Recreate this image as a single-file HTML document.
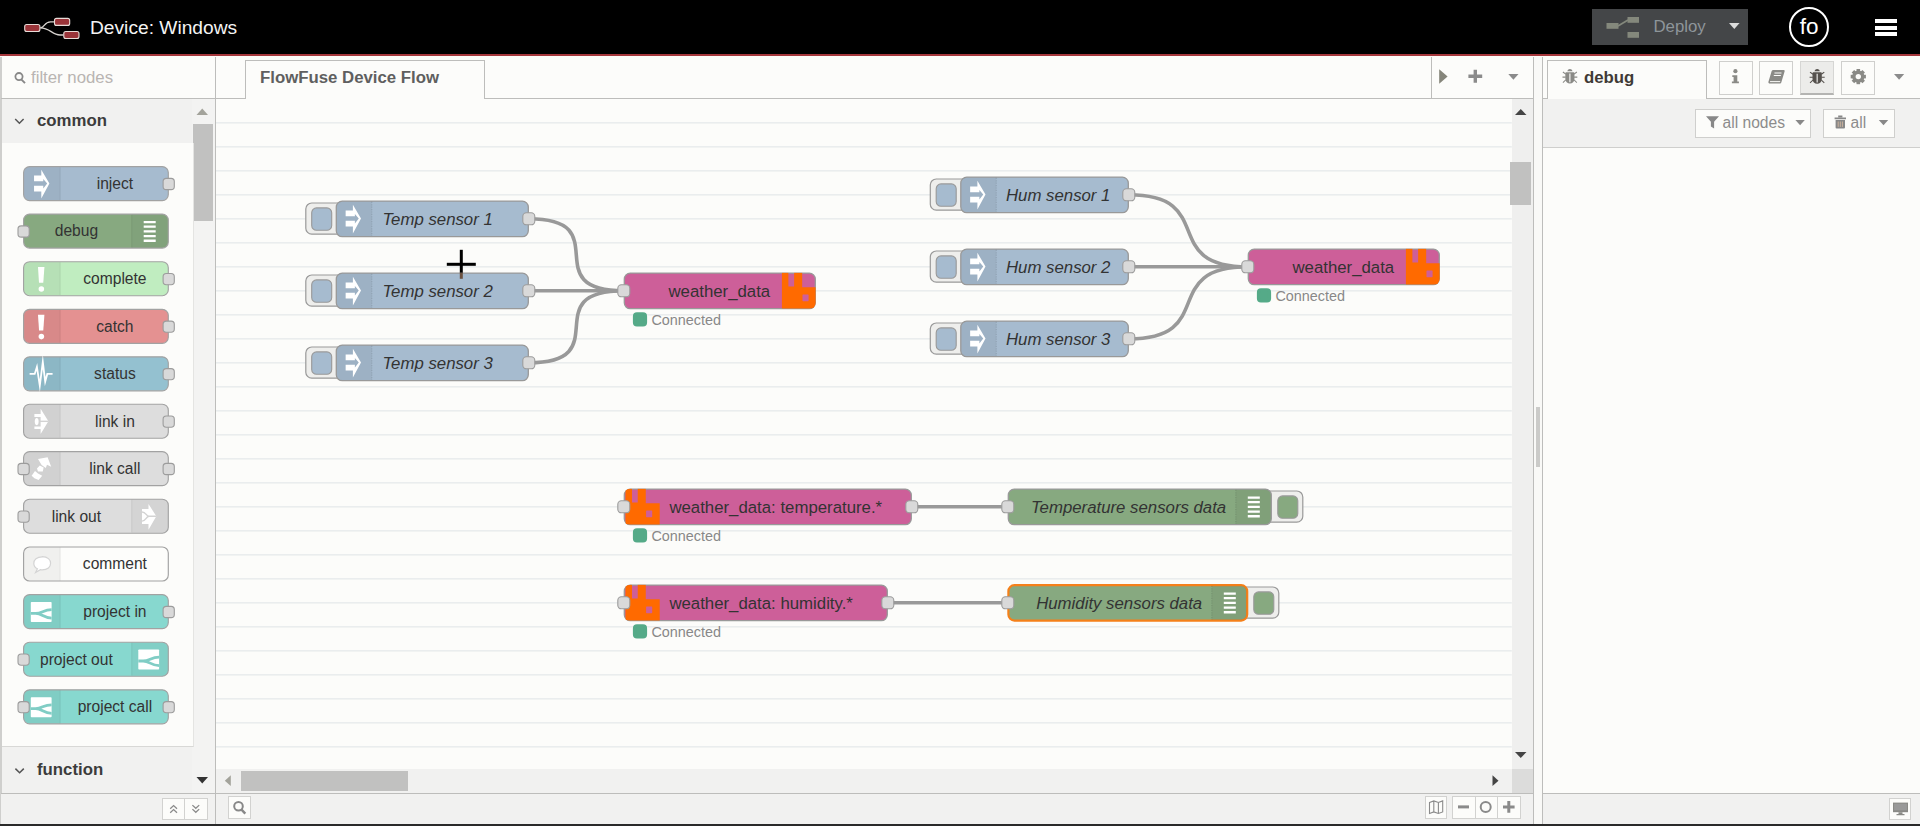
<!DOCTYPE html><html><head><meta charset="utf-8"><title>FlowFuse Device</title>
<style>
html,body{margin:0;padding:0;overflow:hidden;}
body{width:1920px;height:826px;overflow:hidden;position:relative;background:#fcfcfa;font-family:"Liberation Sans", sans-serif;color:#333;}
.a{position:absolute;box-sizing:border-box;}
.t{position:absolute;white-space:nowrap;line-height:1;}
svg{position:absolute;left:0;top:0;overflow:visible;}
svg text{font-family:"Liberation Sans", sans-serif;}
</style></head><body>
<div class="a" style="left:0px;top:0px;width:1920px;height:54px;background:#000;"></div>
<div class="a" style="left:0px;top:54px;width:1920px;height:2.3px;background:#a5373c;"></div>
<svg width="1920" height="56">
<g fill="none" stroke="#d8d4d0" stroke-width="1.3">
<path d="M40.4 27.8 C45 27.8 44 21.9 50.5 21.9 L54.5 21.9"/>
<path d="M40.4 27.8 C50 27.8 52 35 60 35 L63.6 35"/>
</g>
<rect x="24.7" y="24.5" width="15.2" height="7" rx="2" fill="#9a3439" stroke="#e8dcd8" stroke-width="1.1"/>
<rect x="54.5" y="18.4" width="15.2" height="7" rx="2" fill="#9a3439" stroke="#e8dcd8" stroke-width="1.1"/>
<rect x="63.8" y="31.5" width="15.2" height="7" rx="2" fill="#9a3439" stroke="#e8dcd8" stroke-width="1.1"/>
</svg>
<div class="t" style="left:90px;top:17.5px;font-size:19.2px;color:#f4f4f4;">Device: Windows</div>
<div class="a" style="left:1592px;top:9px;width:156px;height:36px;background:#444648;"></div>
<svg width="1920" height="56">
<g fill="#84887c">
<rect x="1606.5" y="23" width="12" height="5.8"/>
<rect x="1627.5" y="17" width="11.5" height="5.8"/>
<rect x="1627.5" y="32" width="11.5" height="5.8"/>
</g>
<path d="M1618 26 L1628 20" stroke="#84887c" stroke-width="1.6" fill="none"/>
<path d="M1729 23 h10.6 l-5.3 6 z" fill="#dcdcdc"/>
</svg>
<div class="t" style="left:1653.5px;top:18.5px;font-size:16.8px;color:#8e959a;">Deploy</div>
<div class="a" style="left:1789px;top:7px;width:40px;height:40px;border:2px solid #fff;border-radius:50%;"></div>
<div class="t" style="left:1799.8px;top:16px;font-size:22.5px;color:#fff;">fo</div>
<div class="a" style="left:1875px;top:18.8px;width:21.5px;height:4px;background:#fff;"></div>
<div class="a" style="left:1875px;top:25.6px;width:21.5px;height:4px;background:#fff;"></div>
<div class="a" style="left:1875px;top:32.2px;width:21.5px;height:4px;background:#fff;"></div>
<div class="a" style="left:0.3px;top:56.5px;width:1.3px;height:768px;background:#cfcfcd;"></div>
<div class="a" style="left:215px;top:56.5px;width:1.2px;height:768px;background:#bdbdbb;"></div>
<div class="a" style="left:1px;top:98px;width:215px;height:1.2px;background:#bdbdbb;"></div>
<svg width="220" height="100"><circle cx="19" cy="76.6" r="3.6" fill="none" stroke="#888" stroke-width="1.8"/><path d="M21.5 79.6 L25 83.1" stroke="#888" stroke-width="2"/></svg>
<div class="t" style="left:31px;top:70.3px;font-size:16.8px;color:#b9b5b2;">filter nodes</div>
<div class="a" style="left:216px;top:98px;width:1318px;height:1.2px;background:#bdbdbb;"></div>
<div class="a" style="left:245px;top:60px;width:240px;height:39.5px;border:1.2px solid #bdbdbb;border-bottom:none;background:#fcfcfa;"></div>
<div class="t" style="left:260px;top:70.1px;font-size:16.8px;font-weight:bold;color:#5f5f5f;">FlowFuse Device Flow</div>
<div class="a" style="left:1431px;top:56.5px;width:1.2px;height:42px;background:#bdbdbb;"></div>
<svg width="1920" height="100">
<path d="M1439.2 69.2 L1447.6 76.5 L1439.2 83.8 z" fill="#85857a"/>
<path d="M1468.4 74.6 h5.2 v-4.8 h3.4 v4.8 h5.2 v3.4 h-5.2 v4.8 h-3.4 v-4.8 h-5.2 z" fill="#8b8b8b"/>
<path d="M1508.3 74 h10.2 l-5.1 5.8 z" fill="#8b8b8b"/>
</svg>
<div class="a" style="left:1533px;top:56.5px;width:1.2px;height:768px;background:#bdbdbb;"></div>
<div class="a" style="left:1534.2px;top:56.5px;width:8px;height:768px;background:#f9f9f7;"></div>
<div class="a" style="left:1542px;top:56.5px;width:1.2px;height:768px;background:#bdbdbb;"></div>
<div class="a" style="left:1536px;top:407px;width:4px;height:60px;background:#cbcbc9;"></div>
<div class="a" style="left:1px;top:793.2px;width:1532px;height:31px;background:#f1f1f0;border-top:1.2px solid #bdbdbb;"></div>
<div class="a" style="left:1543px;top:793.2px;width:377px;height:31px;background:#f1f1f0;border-top:1.2px solid #bdbdbb;"></div>
<div class="a" style="left:215px;top:794px;width:1.2px;height:30px;background:#bdbdbb;"></div>
<div class="a" style="left:1533px;top:794px;width:1.2px;height:30px;background:#bdbdbb;"></div>
<div class="a" style="left:0px;top:823.6px;width:1920px;height:2.4px;background:#2a2a2a;"></div>
<div class="a" style="left:192px;top:99px;width:23px;height:694.2px;background:#f3f3f2;"></div>
<div class="a" style="left:192.5px;top:124px;width:20.5px;height:97px;background:#c1c1c0;"></div>
<svg width="220" height="826"><path d="M196.5 115 h11.5 l-5.75 -6.5 z" fill="#a3a39b"/><path d="M196.5 777 h11.5 l-5.75 6.5 z" fill="#333"/></svg>
<div class="a" style="left:2px;top:99.2px;width:190px;height:43.5px;background:#f1f1f0;"></div>
<svg width="220" height="826"><path d="M15.2 119 l4.2 4.2 l4.2 -4.2" fill="none" stroke="#555" stroke-width="1.5"/></svg>
<div class="t" style="left:37px;top:113px;font-size:16.8px;font-weight:bold;color:#3c3c3c;">common</div>
<div class="a" style="left:2px;top:142.7px;width:192px;height:604.5px;background:#fcfcfa;border-bottom:1.2px solid #d8d8d6;border-right:1.2px solid #e4e4e2;"></div>
<div class="a" style="left:2px;top:747.2px;width:190px;height:46px;background:#f1f1f0;"></div>
<div class="t" style="left:37px;top:762.2px;font-size:16.8px;font-weight:bold;color:#3c3c3c;">function</div>
<svg width="220" height="826">
<rect x="23.6" y="166.6" width="144.7" height="34" rx="6" fill="#a6bbcf" stroke="#a2a2a2" stroke-width="1.15"/>
<path d="M29.6 167.2 h30.6 v32.8 h-30.6 a5.4 5.4 0 0 1 -5.4 -5.4 v-22 a5.4 5.4 0 0 1 5.4 -5.4 z" fill="rgba(0,0,0,0.05)"/>
<path d="M60.2 167.2 v32.8" stroke="rgba(0,0,0,0.06)" stroke-width="1.2"/>
<g transform="translate(30.2 165.6) scale(0.6)"><path d="M6.4 16.7 H18.5 V7 L32 29.7 L18.5 54.8 V43.2 H6.4 V33.4 H21.8 V38 L28.3 29.7 L21.8 22.3 V26 H6.4 Z" fill="#fff"/></g>
<rect x="163.1" y="178.4" width="11.2" height="11.2" rx="3.2" fill="#d9d9d9" stroke="#9c9c9c" stroke-width="1.1"/>
<text x="114.9" y="188.9" font-size="15.6" text-anchor="middle" fill="#333">inject</text>
<rect x="23.6" y="214.1" width="144.7" height="34" rx="6" fill="#87a980" stroke="#a2a2a2" stroke-width="1.15"/>
<path d="M131.7 214.7 h30.6 a5.4 5.4 0 0 1 5.4 5.4 v22 a5.4 5.4 0 0 1 -5.4 5.4 h-30.6 z" fill="rgba(0,0,0,0.04)"/>
<path d="M131.7 214.7 v32.8" stroke="rgba(0,0,0,0.06)" stroke-width="1.2"/>
<g transform="translate(137.7 213.1) scale(0.6)"><path d="M10 13h20v3.8H10z M10 20.8h20v3.8H10z M10 28.6h20v3.8H10z M10 36.4h20v3.8H10z M10 44.2h20v3.8H10z" fill="#fff"/></g>
<rect x="18" y="225.9" width="11.2" height="11.2" rx="3.2" fill="#d9d9d9" stroke="#9c9c9c" stroke-width="1.1"/>
<text x="76.4" y="236.4" font-size="15.6" text-anchor="middle" fill="#333">debug</text>
<rect x="23.6" y="261.7" width="144.7" height="34" rx="6" fill="#c0edc0" stroke="#a2a2a2" stroke-width="1.15"/>
<path d="M29.6 262.3 h30.6 v32.8 h-30.6 a5.4 5.4 0 0 1 -5.4 -5.4 v-22 a5.4 5.4 0 0 1 5.4 -5.4 z" fill="rgba(0,0,0,0.05)"/>
<path d="M60.2 262.3 v32.8" stroke="rgba(0,0,0,0.06)" stroke-width="1.2"/>
<g transform="translate(30.2 260.7) scale(0.6)"><path d="M13 10.6 H23.7 L21.8 36.8 H14.7 Z" fill="#fff"/><circle cx="18.6" cy="47.2" r="4.6" fill="#fff"/></g>
<rect x="163.1" y="273.5" width="11.2" height="11.2" rx="3.2" fill="#d9d9d9" stroke="#9c9c9c" stroke-width="1.1"/>
<text x="114.9" y="284" font-size="15.6" text-anchor="middle" fill="#333">complete</text>
<rect x="23.6" y="309.3" width="144.7" height="34" rx="6" fill="#e49191" stroke="#a2a2a2" stroke-width="1.15"/>
<path d="M29.6 309.9 h30.6 v32.8 h-30.6 a5.4 5.4 0 0 1 -5.4 -5.4 v-22 a5.4 5.4 0 0 1 5.4 -5.4 z" fill="rgba(0,0,0,0.05)"/>
<path d="M60.2 309.9 v32.8" stroke="rgba(0,0,0,0.06)" stroke-width="1.2"/>
<g transform="translate(30.2 308.3) scale(0.6)"><path d="M13 10.6 H23.7 L21.8 36.8 H14.7 Z" fill="#fff"/><circle cx="18.6" cy="47.2" r="4.6" fill="#fff"/></g>
<rect x="163.1" y="321.1" width="11.2" height="11.2" rx="3.2" fill="#d9d9d9" stroke="#9c9c9c" stroke-width="1.1"/>
<text x="114.9" y="331.6" font-size="15.6" text-anchor="middle" fill="#333">catch</text>
<rect x="23.6" y="356.8" width="144.7" height="34" rx="6" fill="#94c1d0" stroke="#a2a2a2" stroke-width="1.15"/>
<path d="M29.6 357.4 h30.6 v32.8 h-30.6 a5.4 5.4 0 0 1 -5.4 -5.4 v-22 a5.4 5.4 0 0 1 5.4 -5.4 z" fill="rgba(0,0,0,0.05)"/>
<path d="M60.2 357.4 v32.8" stroke="rgba(0,0,0,0.06)" stroke-width="1.2"/>
<g transform="translate(30.2 355.8) scale(0.6)"><path d="M-1 30.2 H7.5 L11.2 18.5 L16 50 L21 10 L25 43 L28.5 30.2 H37.3" fill="none" stroke="#fff" stroke-width="3" stroke-linejoin="miter" stroke-miterlimit="12"/></g>
<rect x="163.1" y="368.6" width="11.2" height="11.2" rx="3.2" fill="#d9d9d9" stroke="#9c9c9c" stroke-width="1.1"/>
<text x="114.9" y="379.1" font-size="15.6" text-anchor="middle" fill="#333">status</text>
<rect x="23.6" y="404.2" width="144.7" height="34" rx="6" fill="#dddddd" stroke="#a2a2a2" stroke-width="1.15"/>
<path d="M29.6 404.8 h30.6 v32.8 h-30.6 a5.4 5.4 0 0 1 -5.4 -5.4 v-22 a5.4 5.4 0 0 1 5.4 -5.4 z" fill="rgba(0,0,0,0.05)"/>
<path d="M60.2 404.8 v32.8" stroke="rgba(0,0,0,0.06)" stroke-width="1.2"/>
<g transform="translate(30.2 403.2) scale(0.6)"><path d="M17.4 9.3 L30.3 30.2 L17.4 51.5 Z M7 18.2 H18 V23 H7 Z M7 39 H18 V43.2 H7 Z" fill="#fff"/><ellipse cx="10.8" cy="30.6" rx="3.2" ry="6" fill="#fff"/><path d="M16 30.2 H30" stroke="#d3d3d3" stroke-width="2.4"/></g>
<rect x="163.1" y="416" width="11.2" height="11.2" rx="3.2" fill="#d9d9d9" stroke="#9c9c9c" stroke-width="1.1"/>
<text x="114.9" y="426.5" font-size="15.6" text-anchor="middle" fill="#333">link in</text>
<rect x="23.6" y="451.6" width="144.7" height="34" rx="6" fill="#dddddd" stroke="#a2a2a2" stroke-width="1.15"/>
<path d="M29.6 452.2 h30.6 v32.8 h-30.6 a5.4 5.4 0 0 1 -5.4 -5.4 v-22 a5.4 5.4 0 0 1 5.4 -5.4 z" fill="rgba(0,0,0,0.05)"/>
<path d="M60.2 452.2 v32.8" stroke="rgba(0,0,0,0.06)" stroke-width="1.2"/>
<g transform="translate(30.2 450.6) scale(0.6)"><path d="M13 14 L29 11 L35 27 L28 23.5 L26 29 L19 24 Z M16 25 L22.4 28 L21 35 L13 35 L11.3 30 Z M8 34 L13 38 L20 42 L14 49 L7 46 L2.4 42 Z" fill="#fff"/></g>
<rect x="18" y="463.4" width="11.2" height="11.2" rx="3.2" fill="#d9d9d9" stroke="#9c9c9c" stroke-width="1.1"/>
<rect x="163.1" y="463.4" width="11.2" height="11.2" rx="3.2" fill="#d9d9d9" stroke="#9c9c9c" stroke-width="1.1"/>
<text x="114.9" y="473.9" font-size="15.6" text-anchor="middle" fill="#333">link call</text>
<rect x="23.6" y="499.2" width="144.7" height="34" rx="6" fill="#dddddd" stroke="#a2a2a2" stroke-width="1.15"/>
<path d="M131.7 499.8 h30.6 a5.4 5.4 0 0 1 5.4 5.4 v22 a5.4 5.4 0 0 1 -5.4 5.4 h-30.6 z" fill="rgba(0,0,0,0.04)"/>
<path d="M131.7 499.8 v32.8" stroke="rgba(0,0,0,0.06)" stroke-width="1.2"/>
<g transform="translate(137.7 498.2) scale(0.6)"><path d="M18 9.5 L31 30.2 L18 52.5 V43 H7.2 V18.2 H18 Z" fill="#fff"/><path d="M31 30.2 H19 C14 30.2 14 23 7.2 23 M19 30.2 C14 30.2 14 38.2 7.2 38.2" stroke="#d3d3d3" stroke-width="2.4" fill="none"/></g>
<rect x="18" y="511" width="11.2" height="11.2" rx="3.2" fill="#d9d9d9" stroke="#9c9c9c" stroke-width="1.1"/>
<text x="76.4" y="521.5" font-size="15.6" text-anchor="middle" fill="#333">link out</text>
<rect x="23.6" y="547" width="144.7" height="34" rx="6" fill="#fdfdfb" stroke="#a2a2a2" stroke-width="1.15"/>
<path d="M29.6 547.6 h30.6 v32.8 h-30.6 a5.4 5.4 0 0 1 -5.4 -5.4 v-22 a5.4 5.4 0 0 1 5.4 -5.4 z" fill="rgba(0,0,0,0.05)"/>
<path d="M60.2 547.6 v32.8" stroke="rgba(0,0,0,0.06)" stroke-width="1.2"/>
<g transform="translate(30.2 546) scale(0.6)"><path d="M20 18 c-9 0 -14 5 -14 11 c0 4 2 7 6 9 l-3 6 l8 -4.5 c1 0.2 2 0.3 3 0.3 c9 0 14 -5 14 -11 c0 -6 -5 -11 -14 -11 z" fill="#fff" stroke="#d4d4d4" stroke-width="2"/></g>
<text x="114.9" y="569.3" font-size="15.6" text-anchor="middle" fill="#333">comment</text>
<rect x="23.6" y="594.6" width="144.7" height="34" rx="6" fill="#87d8cf" stroke="#a2a2a2" stroke-width="1.15"/>
<path d="M29.6 595.2 h30.6 v32.8 h-30.6 a5.4 5.4 0 0 1 -5.4 -5.4 v-22 a5.4 5.4 0 0 1 5.4 -5.4 z" fill="rgba(0,0,0,0.05)"/>
<path d="M60.2 595.2 v32.8" stroke="rgba(0,0,0,0.06)" stroke-width="1.2"/>
<g transform="translate(30.2 593.6) scale(0.6)"><rect x="1" y="14" width="34.7" height="33.3" rx="1.2" fill="#fff"/><path d="M1 33 H9 C20 33 22 26.6 35.7 26.6 M9 33 C20 33 22 40.8 35.7 40.8" stroke="#80cdc5" stroke-width="4.6" fill="none"/></g>
<rect x="163.1" y="606.4" width="11.2" height="11.2" rx="3.2" fill="#d9d9d9" stroke="#9c9c9c" stroke-width="1.1"/>
<text x="114.9" y="616.9" font-size="15.6" text-anchor="middle" fill="#333">project in</text>
<rect x="23.6" y="642.2" width="144.7" height="34" rx="6" fill="#87d8cf" stroke="#a2a2a2" stroke-width="1.15"/>
<path d="M131.7 642.8 h30.6 a5.4 5.4 0 0 1 5.4 5.4 v22 a5.4 5.4 0 0 1 -5.4 5.4 h-30.6 z" fill="rgba(0,0,0,0.04)"/>
<path d="M131.7 642.8 v32.8" stroke="rgba(0,0,0,0.06)" stroke-width="1.2"/>
<g transform="translate(137.7 641.2) scale(0.6)"><rect x="1" y="14" width="34.7" height="33.3" rx="1.2" fill="#fff"/><path d="M1 33 H9 C20 33 22 26.6 35.7 26.6 M9 33 C20 33 22 40.8 35.7 40.8" stroke="#80cdc5" stroke-width="4.6" fill="none"/></g>
<rect x="18" y="654" width="11.2" height="11.2" rx="3.2" fill="#d9d9d9" stroke="#9c9c9c" stroke-width="1.1"/>
<text x="76.4" y="664.5" font-size="15.6" text-anchor="middle" fill="#333">project out</text>
<rect x="23.6" y="689.8" width="144.7" height="34" rx="6" fill="#87d8cf" stroke="#a2a2a2" stroke-width="1.15"/>
<path d="M29.6 690.4 h30.6 v32.8 h-30.6 a5.4 5.4 0 0 1 -5.4 -5.4 v-22 a5.4 5.4 0 0 1 5.4 -5.4 z" fill="rgba(0,0,0,0.05)"/>
<path d="M60.2 690.4 v32.8" stroke="rgba(0,0,0,0.06)" stroke-width="1.2"/>
<g transform="translate(30.2 688.8) scale(0.6)"><rect x="1" y="14" width="34.7" height="33.3" rx="1.2" fill="#fff"/><path d="M1 33 H9 C20 33 22 26.6 35.7 26.6 M9 33 C20 33 22 40.8 35.7 40.8" stroke="#80cdc5" stroke-width="4.6" fill="none"/></g>
<rect x="18" y="701.6" width="11.2" height="11.2" rx="3.2" fill="#d9d9d9" stroke="#9c9c9c" stroke-width="1.1"/>
<rect x="163.1" y="701.6" width="11.2" height="11.2" rx="3.2" fill="#d9d9d9" stroke="#9c9c9c" stroke-width="1.1"/>
<text x="114.9" y="712.1" font-size="15.6" text-anchor="middle" fill="#333">project call</text>
</svg>
<div class="a" style="left:162.2px;top:798.4px;width:45.8px;height:21.4px;background:#fcfcfa;border:1px solid #d2d2d0;"></div>
<div class="a" style="left:184.3px;top:798.4px;width:1px;height:21.4px;background:#d2d2d0;"></div>
<svg width="220" height="826"><g fill="none" stroke="#8a8a8a" stroke-width="1.3">
<path d="M170.2 808.8 l3.4 -3.2 l3.4 3.2 M170.2 812.8 l3.4 -3.2 l3.4 3.2"/>
<path d="M192.4 805.1 l3.4 3.2 l3.4 -3.2 M192.4 809.1 l3.4 3.2 l3.4 -3.2"/>
</g></svg>
<svg width="220" height="826"><path d="M15.4 768.6 l4.2 4.2 l4.2 -4.2" fill="none" stroke="#555" stroke-width="1.5"/></svg>
<div class="a" style="left:216.2px;top:99.2px;width:1295.8px;height:669.8px;overflow:hidden;background:#fcfcfa;">
<svg width="1295.8" height="669.8" viewBox="216.2 99.2 1295.8 669.8">
<path d="M216.2 123 H1512" stroke="#e5e9ea" stroke-width="1.3"/>
<path d="M216.2 147 H1512" stroke="#e5e9ea" stroke-width="1.3"/>
<path d="M216.2 171 H1512" stroke="#e5e9ea" stroke-width="1.3"/>
<path d="M216.2 195 H1512" stroke="#e5e9ea" stroke-width="1.3"/>
<path d="M216.2 219 H1512" stroke="#e5e9ea" stroke-width="1.3"/>
<path d="M216.2 243 H1512" stroke="#e5e9ea" stroke-width="1.3"/>
<path d="M216.2 267 H1512" stroke="#e5e9ea" stroke-width="1.3"/>
<path d="M216.2 291 H1512" stroke="#e5e9ea" stroke-width="1.3"/>
<path d="M216.2 315 H1512" stroke="#e5e9ea" stroke-width="1.3"/>
<path d="M216.2 339 H1512" stroke="#e5e9ea" stroke-width="1.3"/>
<path d="M216.2 363 H1512" stroke="#e5e9ea" stroke-width="1.3"/>
<path d="M216.2 387 H1512" stroke="#e5e9ea" stroke-width="1.3"/>
<path d="M216.2 411 H1512" stroke="#e5e9ea" stroke-width="1.3"/>
<path d="M216.2 435 H1512" stroke="#e5e9ea" stroke-width="1.3"/>
<path d="M216.2 459 H1512" stroke="#e5e9ea" stroke-width="1.3"/>
<path d="M216.2 483 H1512" stroke="#e5e9ea" stroke-width="1.3"/>
<path d="M216.2 507 H1512" stroke="#e5e9ea" stroke-width="1.3"/>
<path d="M216.2 531 H1512" stroke="#e5e9ea" stroke-width="1.3"/>
<path d="M216.2 555 H1512" stroke="#e5e9ea" stroke-width="1.3"/>
<path d="M216.2 579 H1512" stroke="#e5e9ea" stroke-width="1.3"/>
<path d="M216.2 603 H1512" stroke="#e5e9ea" stroke-width="1.3"/>
<path d="M216.2 627 H1512" stroke="#e5e9ea" stroke-width="1.3"/>
<path d="M216.2 651 H1512" stroke="#e5e9ea" stroke-width="1.3"/>
<path d="M216.2 675 H1512" stroke="#e5e9ea" stroke-width="1.3"/>
<path d="M216.2 699 H1512" stroke="#e5e9ea" stroke-width="1.3"/>
<path d="M216.2 723 H1512" stroke="#e5e9ea" stroke-width="1.3"/>
<path d="M216.2 747 H1512" stroke="#e5e9ea" stroke-width="1.3"/>
<path d="M529 219 C618.401 219 534.599 291 624 291" fill="none" stroke="#999" stroke-width="3.6" stroke-linecap="round"/>
<path d="M529 291 C600.25 291 552.75 291 624 291" fill="none" stroke="#999" stroke-width="3.6" stroke-linecap="round"/>
<path d="M529 363 C618.401 363 534.599 291 624 291" fill="none" stroke="#999" stroke-width="3.6" stroke-linecap="round"/>
<path d="M1129 195 C1219 195 1158 267 1248 267" fill="none" stroke="#999" stroke-width="3.6" stroke-linecap="round"/>
<path d="M1129 267 C1218.25 267 1158.75 267 1248 267" fill="none" stroke="#999" stroke-width="3.6" stroke-linecap="round"/>
<path d="M1129 339 C1219 339 1158 267 1248 267" fill="none" stroke="#999" stroke-width="3.6" stroke-linecap="round"/>
<path d="M912 507 C984 507 936 507 1008 507" fill="none" stroke="#999" stroke-width="3.6" stroke-linecap="round"/>
<path d="M888 603 C978 603 918 603 1008 603" fill="none" stroke="#999" stroke-width="3.6" stroke-linecap="round"/>
<rect x="306" y="203.2" width="38.4" height="31.2" rx="6" fill="#eeeeec" stroke="#999" stroke-width="1.2"/>
<rect x="311.9" y="208.1" width="20" height="22.4" rx="4.8" fill="#a6bbcf" stroke="#999" stroke-width="1.1"/>
<rect x="336.5" y="201.3" width="192" height="35.6" rx="6" fill="#a6bbcf" stroke="#999" stroke-width="1.3"/>
<path d="M342.2 202 h29.8 v34.2 h-29.8 a5 5 0 0 1 -5 -5 v-24.2 a5 5 0 0 1 5 -5 z" fill="rgba(0,0,0,0.05)"/>
<path d="M372 202 v34.2" stroke="rgba(0,0,0,0.1)" stroke-width="1.2" stroke-dasharray="1.2 1.2"/>
<g transform="translate(342 200.8) scale(0.6)"><path d="M6.4 16.7 H18.5 V7 L32 29.7 L18.5 54.8 V43.2 H6.4 V33.4 H21.8 V38 L28.3 29.7 L21.8 22.3 V26 H6.4 Z" fill="#fff"/></g>
<text x="382.6" y="225.6" font-size="16.8" fill="#333" font-style="italic">Temp sensor 1</text>
<rect x="523" y="213" width="12" height="12" rx="3.6" fill="#d9d9d9" stroke="#9c9c9c" stroke-width="1.1"/>
<rect x="306" y="275.2" width="38.4" height="31.2" rx="6" fill="#eeeeec" stroke="#999" stroke-width="1.2"/>
<rect x="311.9" y="280.1" width="20" height="22.4" rx="4.8" fill="#a6bbcf" stroke="#999" stroke-width="1.1"/>
<rect x="336.5" y="273.3" width="192" height="35.6" rx="6" fill="#a6bbcf" stroke="#999" stroke-width="1.3"/>
<path d="M342.2 274 h29.8 v34.2 h-29.8 a5 5 0 0 1 -5 -5 v-24.2 a5 5 0 0 1 5 -5 z" fill="rgba(0,0,0,0.05)"/>
<path d="M372 274 v34.2" stroke="rgba(0,0,0,0.1)" stroke-width="1.2" stroke-dasharray="1.2 1.2"/>
<g transform="translate(342 272.8) scale(0.6)"><path d="M6.4 16.7 H18.5 V7 L32 29.7 L18.5 54.8 V43.2 H6.4 V33.4 H21.8 V38 L28.3 29.7 L21.8 22.3 V26 H6.4 Z" fill="#fff"/></g>
<text x="382.6" y="297.6" font-size="16.8" fill="#333" font-style="italic">Temp sensor 2</text>
<rect x="523" y="285" width="12" height="12" rx="3.6" fill="#d9d9d9" stroke="#9c9c9c" stroke-width="1.1"/>
<rect x="306" y="347.2" width="38.4" height="31.2" rx="6" fill="#eeeeec" stroke="#999" stroke-width="1.2"/>
<rect x="311.9" y="352.1" width="20" height="22.4" rx="4.8" fill="#a6bbcf" stroke="#999" stroke-width="1.1"/>
<rect x="336.5" y="345.3" width="192" height="35.6" rx="6" fill="#a6bbcf" stroke="#999" stroke-width="1.3"/>
<path d="M342.2 346 h29.8 v34.2 h-29.8 a5 5 0 0 1 -5 -5 v-24.2 a5 5 0 0 1 5 -5 z" fill="rgba(0,0,0,0.05)"/>
<path d="M372 346 v34.2" stroke="rgba(0,0,0,0.1)" stroke-width="1.2" stroke-dasharray="1.2 1.2"/>
<g transform="translate(342 344.8) scale(0.6)"><path d="M6.4 16.7 H18.5 V7 L32 29.7 L18.5 54.8 V43.2 H6.4 V33.4 H21.8 V38 L28.3 29.7 L21.8 22.3 V26 H6.4 Z" fill="#fff"/></g>
<text x="382.6" y="369.6" font-size="16.8" fill="#333" font-style="italic">Temp sensor 3</text>
<rect x="523" y="357" width="12" height="12" rx="3.6" fill="#d9d9d9" stroke="#9c9c9c" stroke-width="1.1"/>
<rect x="624.5" y="273.3" width="191" height="35.6" rx="6" fill="#cd5f99" stroke="#999" stroke-width="1.3"/>
<clipPath id="c6531"><rect x="624.2" y="273" width="191.6" height="36.2" rx="6"/></clipPath>
<g clip-path="url(#c6531)"><g transform="translate(782.1 272.8) scale(0.6)"><path d="M0 0 H10.8 V23.2 H20.4 V0 H33.8 V24.5 H57 V60 H0 Z" fill="#ff6a00"/><rect x="34.3" y="36.5" width="10.2" height="11.2" rx="1" fill="#cd5f99"/></g></g>
<text x="770.4" y="297.6" font-size="16.8" text-anchor="end" fill="#333">weather_data</text>
<rect x="618" y="285" width="12" height="12" rx="3.6" fill="#d9d9d9" stroke="#9c9c9c" stroke-width="1.1"/>
<rect x="634.8" y="314.2" width="10.8" height="10.8" rx="2.4" fill="#5a8" stroke="#5a8" stroke-width="3.4"/>
<text x="651.6" y="325.2" font-size="14.4" fill="#888">Connected</text>
<rect x="930.5" y="179.2" width="38.4" height="31.2" rx="6" fill="#eeeeec" stroke="#999" stroke-width="1.2"/>
<rect x="936.4" y="184.1" width="20" height="22.4" rx="4.8" fill="#a6bbcf" stroke="#999" stroke-width="1.1"/>
<rect x="961" y="177.3" width="167.5" height="35.6" rx="6" fill="#a6bbcf" stroke="#999" stroke-width="1.3"/>
<path d="M966.7 178 h29.8 v34.2 h-29.8 a5 5 0 0 1 -5 -5 v-24.2 a5 5 0 0 1 5 -5 z" fill="rgba(0,0,0,0.05)"/>
<path d="M996.5 178 v34.2" stroke="rgba(0,0,0,0.1)" stroke-width="1.2" stroke-dasharray="1.2 1.2"/>
<g transform="translate(966.5 176.8) scale(0.6)"><path d="M6.4 16.7 H18.5 V7 L32 29.7 L18.5 54.8 V43.2 H6.4 V33.4 H21.8 V38 L28.3 29.7 L21.8 22.3 V26 H6.4 Z" fill="#fff"/></g>
<text x="1006.2" y="201.6" font-size="16.8" fill="#333" font-style="italic">Hum sensor 1</text>
<rect x="1123" y="189" width="12" height="12" rx="3.6" fill="#d9d9d9" stroke="#9c9c9c" stroke-width="1.1"/>
<rect x="930.5" y="251.2" width="38.4" height="31.2" rx="6" fill="#eeeeec" stroke="#999" stroke-width="1.2"/>
<rect x="936.4" y="256.1" width="20" height="22.4" rx="4.8" fill="#a6bbcf" stroke="#999" stroke-width="1.1"/>
<rect x="961" y="249.3" width="167.5" height="35.6" rx="6" fill="#a6bbcf" stroke="#999" stroke-width="1.3"/>
<path d="M966.7 250 h29.8 v34.2 h-29.8 a5 5 0 0 1 -5 -5 v-24.2 a5 5 0 0 1 5 -5 z" fill="rgba(0,0,0,0.05)"/>
<path d="M996.5 250 v34.2" stroke="rgba(0,0,0,0.1)" stroke-width="1.2" stroke-dasharray="1.2 1.2"/>
<g transform="translate(966.5 248.8) scale(0.6)"><path d="M6.4 16.7 H18.5 V7 L32 29.7 L18.5 54.8 V43.2 H6.4 V33.4 H21.8 V38 L28.3 29.7 L21.8 22.3 V26 H6.4 Z" fill="#fff"/></g>
<text x="1006.2" y="273.6" font-size="16.8" fill="#333" font-style="italic">Hum sensor 2</text>
<rect x="1123" y="261" width="12" height="12" rx="3.6" fill="#d9d9d9" stroke="#9c9c9c" stroke-width="1.1"/>
<rect x="930.5" y="323.2" width="38.4" height="31.2" rx="6" fill="#eeeeec" stroke="#999" stroke-width="1.2"/>
<rect x="936.4" y="328.1" width="20" height="22.4" rx="4.8" fill="#a6bbcf" stroke="#999" stroke-width="1.1"/>
<rect x="961" y="321.3" width="167.5" height="35.6" rx="6" fill="#a6bbcf" stroke="#999" stroke-width="1.3"/>
<path d="M966.7 322 h29.8 v34.2 h-29.8 a5 5 0 0 1 -5 -5 v-24.2 a5 5 0 0 1 5 -5 z" fill="rgba(0,0,0,0.05)"/>
<path d="M996.5 322 v34.2" stroke="rgba(0,0,0,0.1)" stroke-width="1.2" stroke-dasharray="1.2 1.2"/>
<g transform="translate(966.5 320.8) scale(0.6)"><path d="M6.4 16.7 H18.5 V7 L32 29.7 L18.5 54.8 V43.2 H6.4 V33.4 H21.8 V38 L28.3 29.7 L21.8 22.3 V26 H6.4 Z" fill="#fff"/></g>
<text x="1006.2" y="345.6" font-size="16.8" fill="#333" font-style="italic">Hum sensor 3</text>
<rect x="1123" y="333" width="12" height="12" rx="3.6" fill="#d9d9d9" stroke="#9c9c9c" stroke-width="1.1"/>
<rect x="1248.5" y="249.3" width="191" height="35.6" rx="6" fill="#cd5f99" stroke="#999" stroke-width="1.3"/>
<clipPath id="c12747"><rect x="1248.2" y="249" width="191.6" height="36.2" rx="6"/></clipPath>
<g clip-path="url(#c12747)"><g transform="translate(1406.1 248.8) scale(0.6)"><path d="M0 0 H10.8 V23.2 H20.4 V0 H33.8 V24.5 H57 V60 H0 Z" fill="#ff6a00"/><rect x="34.3" y="36.5" width="10.2" height="11.2" rx="1" fill="#cd5f99"/></g></g>
<text x="1394.4" y="273.6" font-size="16.8" text-anchor="end" fill="#333">weather_data</text>
<rect x="1242" y="261" width="12" height="12" rx="3.6" fill="#d9d9d9" stroke="#9c9c9c" stroke-width="1.1"/>
<rect x="1258.8" y="290.2" width="10.8" height="10.8" rx="2.4" fill="#5a8" stroke="#5a8" stroke-width="3.4"/>
<text x="1275.6" y="301.2" font-size="14.4" fill="#888">Connected</text>
<rect x="624.5" y="489.3" width="287" height="35.6" rx="6" fill="#cd5f99" stroke="#999" stroke-width="1.3"/>
<clipPath id="c6747"><rect x="624.2" y="489" width="287.6" height="36.2" rx="6"/></clipPath>
<g clip-path="url(#c6747)"><g transform="translate(625.7 488.8) scale(0.6)"><path d="M0 0 H10.8 V23.2 H20.4 V0 H33.8 V24.5 H57 V60 H0 Z" fill="#ff6a00"/><rect x="34.3" y="36.5" width="10.2" height="11.2" rx="1" fill="#cd5f99"/></g></g>
<text x="669.6" y="513.6" font-size="16.8" fill="#333">weather_data<tspan>:</tspan> temperature.*</text>
<rect x="618" y="501" width="12" height="12" rx="3.6" fill="#d9d9d9" stroke="#9c9c9c" stroke-width="1.1"/>
<rect x="906" y="501" width="12" height="12" rx="3.6" fill="#d9d9d9" stroke="#9c9c9c" stroke-width="1.1"/>
<rect x="634.8" y="530.2" width="10.8" height="10.8" rx="2.4" fill="#5a8" stroke="#5a8" stroke-width="3.4"/>
<text x="651.6" y="541.2" font-size="14.4" fill="#888">Connected</text>
<rect x="1264.6" y="491.2" width="38.4" height="31.2" rx="6" fill="#eeeeec" stroke="#999" stroke-width="1.2"/>
<rect x="1278" y="496.1" width="20" height="22.4" rx="4.8" fill="#87a980" stroke="#999" stroke-width="1.1"/>
<rect x="1008.5" y="489.3" width="263" height="35.6" rx="6" fill="#87a980" stroke="#999" stroke-width="1.3"/>
<path d="M1236 490 h29.8 a5 5 0 0 1 5 5 v24.2 a5 5 0 0 1 -5 5 h-29.8 z" fill="rgba(0,0,0,0.05)"/>
<path d="M1236 490 v34.2" stroke="rgba(0,0,0,0.1)" stroke-width="1.2" stroke-dasharray="1.2 1.2"/>
<g transform="translate(1242 488.8) scale(0.6)"><path d="M10 13h20v3.8H10z M10 20.8h20v3.8H10z M10 28.6h20v3.8H10z M10 36.4h20v3.8H10z M10 44.2h20v3.8H10z" fill="#fff"/></g>
<text x="1226.4" y="513.6" font-size="16.8" text-anchor="end" fill="#333" font-style="italic">Temperature sensors data</text>
<rect x="1002" y="501" width="12" height="12" rx="3.6" fill="#d9d9d9" stroke="#9c9c9c" stroke-width="1.1"/>
<rect x="624.5" y="585.3" width="263" height="35.6" rx="6" fill="#cd5f99" stroke="#999" stroke-width="1.3"/>
<clipPath id="c6843"><rect x="624.2" y="585" width="263.6" height="36.2" rx="6"/></clipPath>
<g clip-path="url(#c6843)"><g transform="translate(625.7 584.8) scale(0.6)"><path d="M0 0 H10.8 V23.2 H20.4 V0 H33.8 V24.5 H57 V60 H0 Z" fill="#ff6a00"/><rect x="34.3" y="36.5" width="10.2" height="11.2" rx="1" fill="#cd5f99"/></g></g>
<text x="669.6" y="609.6" font-size="16.8" fill="#333">weather_data<tspan>:</tspan> humidity.*</text>
<rect x="618" y="597" width="12" height="12" rx="3.6" fill="#d9d9d9" stroke="#9c9c9c" stroke-width="1.1"/>
<rect x="882" y="597" width="12" height="12" rx="3.6" fill="#d9d9d9" stroke="#9c9c9c" stroke-width="1.1"/>
<rect x="634.8" y="626.2" width="10.8" height="10.8" rx="2.4" fill="#5a8" stroke="#5a8" stroke-width="3.4"/>
<text x="651.6" y="637.2" font-size="14.4" fill="#888">Connected</text>
<rect x="1240.6" y="587.2" width="38.4" height="31.2" rx="6" fill="#eeeeec" stroke="#999" stroke-width="1.2"/>
<rect x="1254" y="592.1" width="20" height="22.4" rx="4.8" fill="#87a980" stroke="#999" stroke-width="1.1"/>
<rect x="1008.6" y="585.4" width="238.8" height="35.4" rx="6" fill="#87a980" stroke="#f5801a" stroke-width="2.2"/>
<path d="M1212 586 h29.8 a5 5 0 0 1 5 5 v24.2 a5 5 0 0 1 -5 5 h-29.8 z" fill="rgba(0,0,0,0.05)"/>
<path d="M1212 586 v34.2" stroke="rgba(0,0,0,0.1)" stroke-width="1.2" stroke-dasharray="1.2 1.2"/>
<g transform="translate(1218 584.8) scale(0.6)"><path d="M10 13h20v3.8H10z M10 20.8h20v3.8H10z M10 28.6h20v3.8H10z M10 36.4h20v3.8H10z M10 44.2h20v3.8H10z" fill="#fff"/></g>
<text x="1202.4" y="609.6" font-size="16.8" text-anchor="end" fill="#333" font-style="italic">Humidity sensors data</text>
<rect x="1002" y="597" width="12" height="12" rx="3.6" fill="#d9d9d9" stroke="#9c9c9c" stroke-width="1.1"/>
<rect x="447" y="263" width="29" height="3" fill="#000"/>
<rect x="460" y="250" width="3" height="23" fill="#000"/>
<rect x="460" y="273" width="3" height="6" fill="#6b5140"/>
</svg></div>
<div class="a" style="left:1511.6px;top:99.2px;width:21.6px;height:670px;background:#efefee;"></div>
<div class="a" style="left:1510px;top:162px;width:21px;height:43px;background:#c1c1c0;"></div>
<div class="a" style="left:216.2px;top:769px;width:1296px;height:24.2px;background:#f1f1f0;"></div>
<div class="a" style="left:241px;top:770.6px;width:167px;height:20.2px;background:#c1c1c0;"></div>
<div class="a" style="left:1512px;top:769px;width:21px;height:24.2px;background:#dcdcdb;"></div>
<svg width="1920" height="826">
<path d="M1515 115 h11.5 l-5.75 -6 z" fill="#444"/>
<path d="M1515 752 h11.5 l-5.75 6 z" fill="#444"/>
<path d="M230.8 775.3 v10.8 l-6 -5.4 z" fill="#a3a39b"/>
<path d="M1492.5 775.3 v10.8 l6 -5.4 z" fill="#444"/>
</svg>
<div class="a" style="left:228.3px;top:796.2px;width:22.5px;height:22.4px;background:#fcfcfa;border:1px solid #d2d2d0;"></div>
<svg width="1920" height="826"><circle cx="238.5" cy="806.3" r="4.3" fill="none" stroke="#888" stroke-width="2"/><path d="M241.5 809.6 L245.3 813.6" stroke="#888" stroke-width="2.4"/></svg>
<div class="a" style="left:1425.2px;top:796.2px;width:21.6px;height:22.4px;background:#fcfcfa;border:1px solid #d2d2d0;"></div>
<div class="a" style="left:1452.3px;top:796.2px;width:68.4px;height:22.4px;background:#fcfcfa;border:1px solid #d2d2d0;"></div>
<div class="a" style="left:1474.5px;top:796.2px;width:1px;height:22.4px;background:#d2d2d0;"></div>
<div class="a" style="left:1497px;top:796.2px;width:1px;height:22.4px;background:#d2d2d0;"></div>
<svg width="1920" height="826">
<path d="M1429.5 802.5 l4.3 -1.6 l4.6 1.6 l4.3 -1.6 v11 l-4.3 1.6 l-4.6 -1.6 l-4.3 1.6 z M1433.8 801 v11 M1438.4 802.5 v11" fill="none" stroke="#8a8a8a" stroke-width="1.1"/>
<rect x="1458" y="805.4" width="11" height="3" fill="#8a8a8a"/>
<circle cx="1485.7" cy="807" r="5" fill="none" stroke="#8a8a8a" stroke-width="2"/>
<path d="M1503 805.4 h4.3 v-4.3 h3 v4.3 h4.3 v3 h-4.3 v4.3 h-3 v-4.3 h-4.3 z" fill="#8a8a8a"/>
</svg>
<div class="a" style="left:1543px;top:98px;width:377px;height:1.2px;background:#bdbdbb;"></div>
<div class="a" style="left:1546.8px;top:60px;width:160.4px;height:39.5px;border:1.2px solid #bdbdbb;border-bottom:none;background:#fcfcfa;"></div>
<svg width="1920" height="160">
<g transform="translate(1562.3 69.3) scale(0.95)" fill="#8a8a86"><path d="M6 0.5 a3.2 3.2 0 0 1 4 0 l0.8 1.6 h-5.6 z" /><path d="M4.2 3 h7.6 a1 1 0 0 1 1 1 v6.2 a4.8 4.8 0 0 1 -9.6 0 v-6.2 a1 1 0 0 1 1 -1 z M7.4 4.5 v9 h1.2 v-9 z"/><path d="M0.2 7.6 h3.4 v1.2 h-3.4 z M12.4 7.6 h3.4 v1.2 h-3.4 z M1 2.4 l3 2.2 l-0.7 0.9 l-3 -2.2 z M15 2.4 l-3 2.2 l0.7 0.9 l3 -2.2 z M1 14.3 l3 -2.8 l-0.7 -0.8 l-3 2.8 z M15 14.3 l-3 -2.8 l0.7 -0.8 l3 2.8 z"/></g>
</svg>
<div class="t" style="left:1584px;top:69.7px;font-size:16.8px;font-weight:bold;color:#403a36;">debug</div>
<div class="a" style="left:1719.2px;top:61.3px;width:33.9px;height:34px;background:#fcfcfa;border:1px solid #cfcfcd;"></div>
<div class="a" style="left:1759.2px;top:61.3px;width:33.9px;height:34px;background:#fcfcfa;border:1px solid #cfcfcd;"></div>
<div class="a" style="left:1800.2px;top:61.3px;width:33.9px;height:34px;background:#ececea;border:1px solid #d6d6d4;border-bottom:2px solid #b4b4b2;"></div>
<div class="a" style="left:1841.2px;top:61.3px;width:33.9px;height:34px;background:#fcfcfa;border:1px solid #cfcfcd;"></div>
<svg width="1920" height="160">
<g fill="#8a8a86"><circle cx="1735.4" cy="71.2" r="2.1"/><path d="M1732.3 75.2 h5 v6.2 h1.6 v1.8 h-7 v-1.8 h1.7 v-4.4 h-1.3 z"/></g>
<g transform="translate(1768.3 69.3) scale(1.1)"><path d="M4.2 0.6 h9.6 a1 1 0 0 1 1 1.3 l-3 10.2 a1.2 1.2 0 0 1 -1.2 0.9 h-9.2 a1.3 1.3 0 0 1 -1.2 -1.8 l2.8 -9.4 a1.6 1.6 0 0 1 1.2 -1.2 z" fill="#8a8a86"/><path d="M5.6 3.4 h6.4 M5 5.6 h6.4" stroke="#fcfcfa" stroke-width="1"/><path d="M1.6 11.2 h9.2" stroke="#fcfcfa" stroke-width="0.9"/></g>
<g transform="translate(1809.4 69.3) scale(0.97)" fill="#55514d"><path d="M6 0.5 a3.2 3.2 0 0 1 4 0 l0.8 1.6 h-5.6 z" /><path d="M4.2 3 h7.6 a1 1 0 0 1 1 1 v6.2 a4.8 4.8 0 0 1 -9.6 0 v-6.2 a1 1 0 0 1 1 -1 z M7.4 4.5 v9 h1.2 v-9 z"/><path d="M0.2 7.6 h3.4 v1.2 h-3.4 z M12.4 7.6 h3.4 v1.2 h-3.4 z M1 2.4 l3 2.2 l-0.7 0.9 l-3 -2.2 z M15 2.4 l-3 2.2 l0.7 0.9 l3 -2.2 z M1 14.3 l3 -2.8 l-0.7 -0.8 l-3 2.8 z M15 14.3 l-3 -2.8 l0.7 -0.8 l3 2.8 z"/></g>
<g fill="#8a8a86">
<rect x="1856.5" y="69" width="3.6" height="4" transform="rotate(0 1858.3 76.6)"/>
<rect x="1856.5" y="69" width="3.6" height="4" transform="rotate(45 1858.3 76.6)"/>
<rect x="1856.5" y="69" width="3.6" height="4" transform="rotate(90 1858.3 76.6)"/>
<rect x="1856.5" y="69" width="3.6" height="4" transform="rotate(135 1858.3 76.6)"/>
<rect x="1856.5" y="69" width="3.6" height="4" transform="rotate(180 1858.3 76.6)"/>
<rect x="1856.5" y="69" width="3.6" height="4" transform="rotate(225 1858.3 76.6)"/>
<rect x="1856.5" y="69" width="3.6" height="4" transform="rotate(270 1858.3 76.6)"/>
<rect x="1856.5" y="69" width="3.6" height="4" transform="rotate(315 1858.3 76.6)"/>
</g>
<circle cx="1858.3" cy="76.6" r="4.4" fill="none" stroke="#8a8a86" stroke-width="3.4"/>
<path d="M1894 74 h10.2 l-5.1 5.8 z" fill="#8b8b8b"/>
</svg>
<div class="a" style="left:1543.2px;top:99.2px;width:377px;height:49px;background:#f1f1f0;border-bottom:1.2px solid #cfcfcd;"></div>
<div class="a" style="left:1695.2px;top:108.5px;width:115.6px;height:29px;background:#fcfcfa;border:1px solid #cfcfcd;"></div>
<div class="a" style="left:1823.2px;top:108.5px;width:71.6px;height:29px;background:#fcfcfa;border:1px solid #cfcfcd;"></div>
<svg width="1920" height="160">
<path d="M1706 116.2 h13 l-4.9 5.6 v6.8 l-3.2 -2.2 v-4.6 z" fill="#888"/>
<path d="M1795.4 120 h9.4 l-4.7 5.2 z" fill="#888"/>
<path d="M1878.8 120 h9.4 l-4.7 5.2 z" fill="#888"/>
<g fill="#888"><path d="M1834.6 117.6 h11.4 v1.6 h-11.4 z M1838.2 115.6 h4.2 v1.6 h-4.2 z"/><path d="M1835.6 120 h9.4 v7.6 a1 1 0 0 1 -1 1 h-7.4 a1 1 0 0 1 -1 -1 z"/></g>
<path d="M1838.2 121.5 v5.4 M1840.3 121.5 v5.4 M1842.4 121.5 v5.4" stroke="#d4b8a0" stroke-width="0.9"/>
</svg>
<div class="t" style="left:1722.6px;top:114.6px;font-size:15.6px;color:#8c8c8c;">all nodes</div>
<div class="t" style="left:1850.6px;top:114.6px;font-size:15.6px;color:#8c8c8c;">all</div>
<div class="a" style="left:1889.4px;top:798px;width:22px;height:22px;background:#fcfcfa;border:1px solid #d2d2d0;"></div>
<svg width="1920" height="826"><g fill="#8a8a86"><path d="M1893 802.6 h15 v9.6 h-15 z"/><path d="M1898.5 812.2 h4 v2 h-4 z M1896.5 814 h8 v1.3 h-8 z"/></g><rect x="1894.1" y="803.7" width="12.8" height="6.6" fill="#999"/></svg>
</body></html>
